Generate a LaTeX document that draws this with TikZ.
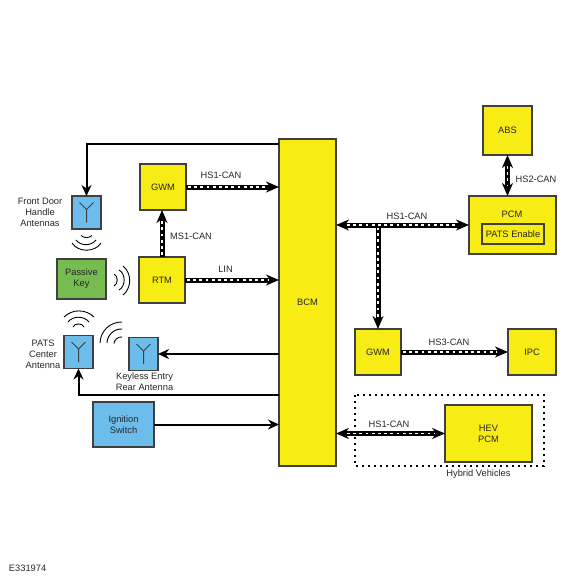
\documentclass[tikz,border=0pt]{standalone}
\usepackage{fontspec}
\setmainfont{Liberation Sans}
\usetikzlibrary{arrows.meta,positioning,calc}
\definecolor{modyellow}{HTML}{F7EC13}
\definecolor{modblue}{HTML}{6CBDEB}
\definecolor{modgreen}{HTML}{76BC51}
\definecolor{edgegray}{HTML}{404040}
\tikzset{
  every node/.style={font=\fontsize{9.3}{11}\selectfont,inner sep=0pt,outer sep=0pt,text=black!85},
  modbox/.style={draw=edgegray,line width=1.1pt,fill=modyellow,align=center},
  antbox/.style={modbox,fill=modblue,minimum width=29,minimum height=33},
  tipA/.tip={Stealth[length=11pt,width=10pt]},
  tipB/.tip={Stealth[length=13pt,width=11pt]},
  wire/.style={draw=black,line width=2pt,-tipA},
  bus/.style={draw=black,line width=5pt,-tipB,
    postaction={draw=white,arrows=-,line width=1.6pt,dash pattern=on 2.8pt off 3.4pt,
      shorten >=11pt,shorten <=#1}},
  bus/.default=2pt,
  wave/.style={draw=black,line width=0.9pt},
  antenna/.pic={
    \draw[draw=edgegray,line width=1pt] (0,10) -- (0,-3) -- (-7,-10);
    \draw[draw=edgegray,line width=1pt] (0,-3) -- (7,-10);
  }
}
\begin{document}
\begin{tikzpicture}[x=1pt,y=-1pt]
\useasboundingbox (0,0) rectangle (580,580);
% modules
\node[modbox,minimum width=57,minimum height=327] (bcm) at (307.5,302.5) {BCM};
\node[modbox,minimum width=46,minimum height=46] (gwmLeft) at (163,187) {GWM};
\node[modbox,minimum width=46,minimum height=46] (rtm) at (162,280) {RTM};
\node[modbox,fill=modgreen,minimum width=49,minimum height=40] (key) at (81.5,279) {Passive\\Key};
\node[modbox,fill=modblue,minimum width=61,minimum height=45] (ignition) at (123.5,424.5) {Ignition\\Switch};
\node[modbox,minimum width=49,minimum height=49] (abs) at (507.5,130.5) {ABS};
\node[modbox,minimum width=87,minimum height=58] (pcm) at (512.5,225) {};
\node (pcmText) at (512,214) {PCM};
\node[draw=edgegray,line width=1.1pt,minimum width=62,minimum height=20] (patsEnable) at (513,234) {PATS Enable};
\node[modbox,minimum width=46,minimum height=46] (gwmRight) at (378,352) {GWM};
\node[modbox,minimum width=48,minimum height=46] (ipc) at (532,352) {IPC};
\node[modbox,minimum width=87,minimum height=57] (hev) at (488.5,433.5) {HEV\\PCM};
% antennas
\node[antbox] (antFront) at (86.5,212.5) {};
\node[antbox] (antPats) at (78.5,352) {};
\node[antbox] (antRear) at (143.5,354) {};
\pic at (antFront) {antenna};
\pic at (antPats) {antenna};
\pic at (antRear) {antenna};
% hybrid frame
\draw[black,line width=2.2pt,dash pattern=on 2.2pt off 3.8pt] (355,395) rectangle (544,466);
% plain wires
\coordinate (frontOut) at (bcm.west |- 0,144);
\coordinate (patsOut) at (bcm.west |- 0,395);
\draw[wire] (frontOut) -| (antFront.north);
\draw[wire] (bcm.west |- antRear) -- (antRear.east);
\draw[wire] (patsOut) -| (antPats.south);
\draw[wire] (ignition.east) -- (ignition -| bcm.west);
% data buses
\coordinate (busTee) at (gwmRight |- pcm);
\draw[bus] (gwmLeft.east) -- (gwmLeft -| bcm.west);
\draw[bus] (rtm.north) -- (rtm.north |- gwmLeft.south);
\draw[bus] (rtm.east) -- (rtm -| bcm.west);
\draw[bus] (busTee) -- (gwmRight.north);
\draw[bus=11pt,tipB-tipB] (bcm.east |- pcm) -- (pcm.west);
\draw[bus=11pt,tipB-tipB] (abs.south) -- (abs.south |- pcm.north);
\draw[bus] (gwmRight.east) -- (ipc.west);
\draw[bus=11pt,tipB-tipB] (bcm.east |- hev) -- (hev.west);
% radio waves
\draw[wave] (72,243) to[bend right=58] (101,243);
\draw[wave] (76,240) to[bend right=53] (96,240);
\draw[wave] (81,235.5) to[bend right=40] (92,235.5);
\draw[wave] (123,266) to[bend left=52] (123,295);
\draw[wave] (119,270) to[bend left=62] (119,290);
\draw[wave] (114,274) to[bend left=67] (114,286);
\draw[wave] (64,317) to[bend left=44] (94,317);
\draw[wave] (68,322) to[bend left=51] (89,322);
\draw[wave] (73,327) to[bend left=72] (84,327);
\draw[wave] (100,343) to[bend left=45] (122,322);
\draw[wave] (107,343) to[bend left=45] (122,329);
\draw[wave] (114,343.5) to[bend left=45] (122,337);
% labels
\node (lblHsA) at (221,175) {HS1-CAN};
\node (lblMs) at (191,236) {MS1-CAN};
\node (lblLin) at (225.5,269) {LIN};
\node (lblHsB) at (407,216) {HS1-CAN};
\node (lblHsTwo) at (536,179) {HS2-CAN};
\node (lblHsThree) at (449,342) {HS3-CAN};
\node (lblHsC) at (389,424) {HS1-CAN};
\node (lblHybrid) at (478.5,474) {Hybrid Vehicles};
\node[align=center] (lblFront) at (40,212) {Front Door\\Handle\\Antennas};
\node[align=center] (lblPats) at (43,354) {PATS\\Center\\Antenna};
\node[align=center] (lblRear) at (144.5,381.5) {Keyless Entry\\Rear Antenna};
\node[right] (lblCode) at (9,568) {E331974};
\end{tikzpicture}
\end{document}
